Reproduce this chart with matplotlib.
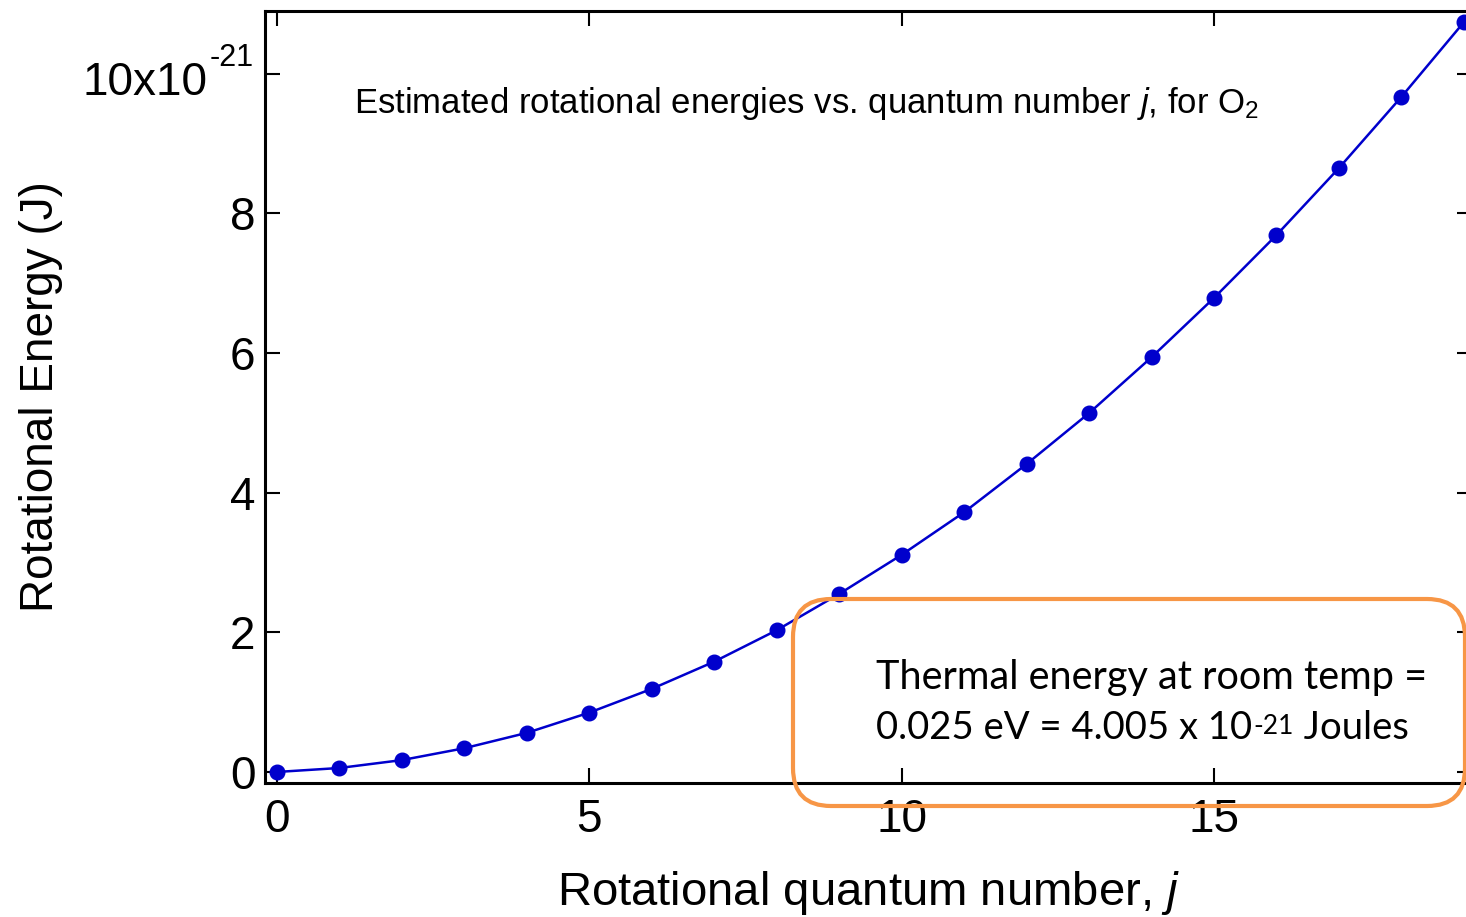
import matplotlib
matplotlib.use("Agg")
import matplotlib.pyplot as plt
from matplotlib.patches import FancyBboxPatch

# Data
j_values = [0, 1, 2, 3, 4, 5, 6, 7, 8, 9, 10, 11, 12, 13, 14, 15, 16, 17, 18, 19]
energy_e21 = [0.0, 0.057, 0.17, 0.34, 0.56, 0.85, 1.19, 1.58, 2.03, 2.55,
              3.11, 3.72, 4.41, 5.14, 5.94, 6.79, 7.69, 8.65, 9.67, 10.74]
x_ticks = [0, 5, 10, 15]
y_ticks = [0, 2, 4, 6, 8, 10]
y_ticklabels = ['0', '2', '4', '6', '8', '']
top_label_base = '10x10'
top_label_exp = '-21'

plt.rcParams['font.family'] = ['Liberation Sans', 'DejaVu Sans']
plt.rcParams['mathtext.fontset'] = 'custom'
plt.rcParams['mathtext.rm'] = 'Liberation Sans'
plt.rcParams['mathtext.it'] = 'Liberation Sans:italic'

fig = plt.figure(figsize=(14.66, 9.17), dpi=100)
ax = fig.add_axes([265/1466, 1-783/917, (1472-265)/1466, (783-11)/917])

ax.plot(j_values, energy_e21, color='#0000CC', lw=1.8, marker='o', ms=10.5,
        clip_on=False, zorder=3)

ax.set_xlim(-0.19, 19.13)
ax.set_ylim(-0.158, 10.90)
ax.set_xticks(x_ticks)
ax.set_yticks(y_ticks)
ax.set_yticklabels(y_ticklabels)
ax.tick_params(direction='in', length=11, width=1.5, labelsize=33,
               top=True, right=True)
ax.tick_params(axis='x', pad=11)
ax.tick_params(axis='y', pad=7)
for s in ax.spines.values():
    s.set_linewidth(2.2)

ax.set_xlabel(r'Rotational quantum number, $\it{j}$', fontsize=34, labelpad=19)
ax.set_ylabel('Rotational Energy (J)', fontsize=33)
ax.yaxis.set_label_coords((63-265)/1207, 0.5)

# top y tick label with superscript exponent (hyphen, as in reference)
fig.text(208/1466, 1-83/917, top_label_base, fontsize=33,
         ha='right', va='center')
fig.text(210/1466, 1-58/917, top_label_exp, fontsize=22,
         ha='left', va='center')

fig.text(354/1466, 1-103/917,
         r'Estimated rotational energies vs. quantum number $\it{j}$, for O$_2$',
         fontsize=25, ha='left', va='center')

box = FancyBboxPatch((7.93, (917-806)/100), 6.72, 2.07,
                     boxstyle='round,pad=0,rounding_size=0.38',
                     transform=fig.dpi_scale_trans, fill=False,
                     edgecolor='#F79646', lw=3, zorder=10)
fig.add_artist(box)

box_fs = 28.5
fig.text(876/1466, 1-678/917, 'Thermal energy at room temp =',
         fontsize=box_fs, family='Lato', ha='left', va='center')
t1 = fig.text(876/1466, 1-728/917, '0.025 eV = 4.005 x 10',
              fontsize=27.5, family='Lato', ha='left', va='center')
fig.canvas.draw()
r = fig.canvas.get_renderer()
bb = t1.get_window_extent(r)
t2 = fig.text(bb.x1 + 1, bb.y1 - 4, '-21', fontsize=19, family='Lato',
              ha='left', va='top', transform=None)
bb2 = t2.get_window_extent(r)
fig.text(bb2.x1 + 1, (bb.y0 + bb.y1) / 2, ' Joules', fontsize=27.5,
         family='Lato', ha='left', va='center', transform=None)

fig.savefig('out.png', dpi=100)
